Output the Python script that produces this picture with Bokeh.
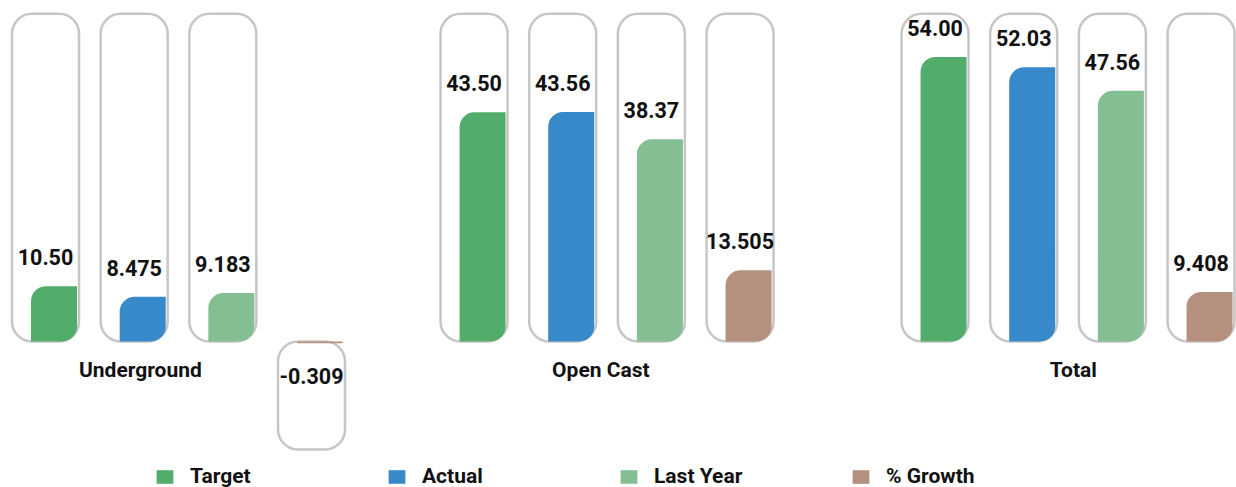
from bokeh.plotting import figure
from bokeh.models import ColumnDataSource, Range1d, Legend, LegendItem
from bokeh.core.properties import value
from bokeh.embed import file_html
from bokeh.resources import INLINE

# ---------------- data ----------------
groups = ["Underground", "Open Cast", "Total"]
series = ["Target", "Actual", "Last Year", "% Growth"]
target = [10.50, 43.50, 54.00]
actual = [8.475, 43.56, 52.03]
last_year = [9.183, 38.37, 47.56]
growth = [-0.309, 13.505, 9.408]
target_labels = ["10.50", "43.50", "54.00"]
actual_labels = ["8.475", "43.56", "52.03"]
last_year_labels = ["9.183", "38.37", "47.56"]
growth_labels = ["-0.309", "13.505", "9.408"]

values = [target, actual, last_year, growth]
value_labels = [target_labels, actual_labels, last_year_labels, growth_labels]
colors = ["#53ad6a", "#3789c9", "#83bf92", "#b5907f"]

# ---------------- layout / style ----------------
W, H = 1236, 487
SLOT_PX = 88.67
FIRST_PX = 45
GROUP_START = [0.0, 4.833, 10.032]
LABEL_SHIFT = [-0.43, -0.07, 0.06]
CAP_W = 0.7556
BAR_DX = 0.096
BAR_W = 0.519
CAP_TOP = 62.2
CAP_NEG = -20.5
ZERO_PX = 341
PX_PER_UNIT = 5.27
FONT = "Roboto"

p = figure(width=W, height=H, output_backend="svg", toolbar_location=None,
           x_range=Range1d(-FIRST_PX / SLOT_PX, (W - FIRST_PX) / SLOT_PX),
           y_range=Range1d(-(H - ZERO_PX) / PX_PER_UNIT, ZERO_PX / PX_PER_UNIT),
           min_border=0)
p.axis.visible = False
p.grid.visible = False
p.outline_line_color = None
p.background_fill_color = "white"

sources = []
for i, s in enumerate(series):
    vals = values[i]
    xs = [GROUP_START[g] + i for g in range(len(groups))]
    src = ColumnDataSource(dict(
        x=xs,
        bx=[x + BAR_DX for x in xs],
        v=vals,
        zero=[0] * len(vals),
        cap_top=[CAP_TOP if v >= 0 else 0 for v in vals],
        cap_bot=[0 if v >= 0 else CAP_NEG for v in vals],
        lab=value_labels[i],
        dy=[-29 if v >= 0 else 33 for v in vals],
    ))
    sources.append(src)

# capsules
for src in sources:
    p.vbar(x="x", width=CAP_W, top="cap_top", bottom="cap_bot", source=src,
           fill_color="white", line_color="#c6c6c6", line_width=2.5,
           border_radius=20)

# bars
bar_renderers = []
for i, src in enumerate(sources):
    r = p.vbar(x="bx", width=BAR_W, top="v", bottom="zero", source=src,
               fill_color=colors[i], line_color=None,
               border_radius=(15, 0, 15, 0))
    bar_renderers.append(r)

# value labels
for src in sources:
    p.text(x="x", y="v", text="lab", y_offset="dy", source=src,
           text_align="center", text_baseline="middle",
           text_font=value(FONT), text_font_style="bold",
           text_font_size="21.5px", text_color="#111111")

# group labels
gsrc = ColumnDataSource(dict(
    x=[GROUP_START[g] + 1.5 + LABEL_SHIFT[g] for g in range(len(groups))],
    y=[0] * len(groups),
    t=groups,
))
p.text(x="x", y="y", text="t", y_offset=28, source=gsrc,
       text_align="center", text_baseline="middle",
       text_font=value(FONT), text_font_style="bold",
       text_font_size="21px", text_color="#111111")

legend = Legend(
    items=[LegendItem(label=s, renderers=[bar_renderers[i]]) for i, s in enumerate(series)],
    orientation="horizontal", location=(154, -1),
    padding=0, margin=0, spacing=0,
    glyph_width=21, glyph_height=17, label_standoff=15, label_width=196,
    label_text_font=FONT, label_text_font_style="bold", label_text_font_size="21px",
    label_text_color="#111111",
    border_line_color=None, background_fill_alpha=0,
)
p.add_layout(legend)

open("out.html", "w").write(file_html(p, INLINE))
